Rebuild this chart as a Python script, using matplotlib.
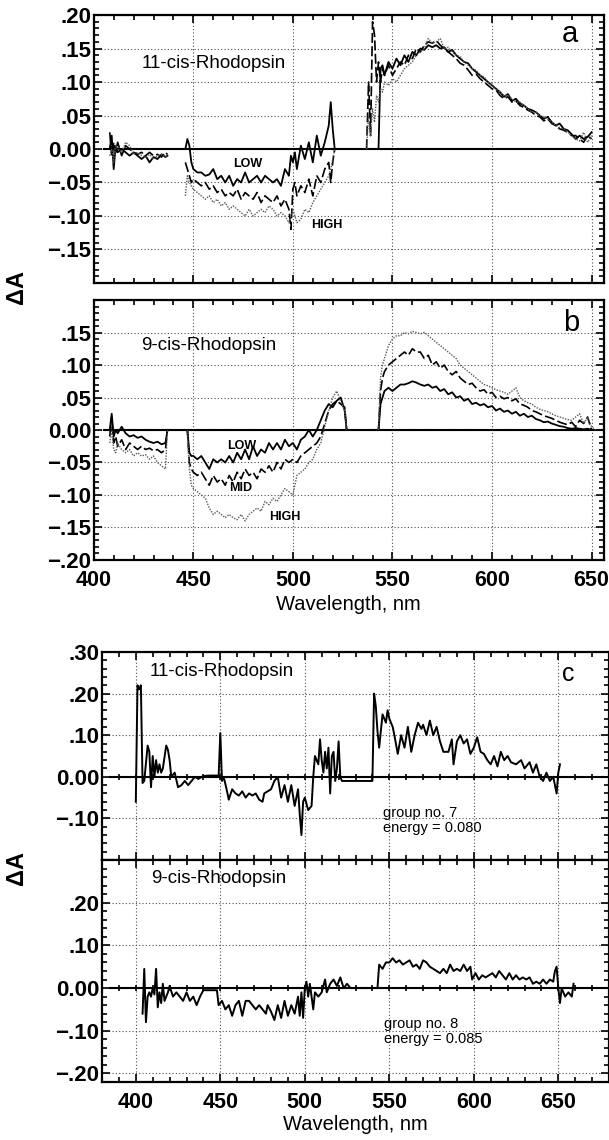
import numpy as np
import matplotlib
matplotlib.use("Agg")
import matplotlib.pyplot as plt
from matplotlib.ticker import MultipleLocator, FixedLocator, FuncFormatter

plt.rcParams['font.family'] = ['Liberation Sans', 'DejaVu Sans']

# ---------------- panel a : 11-cis-Rhodopsin, three intensities ----------------
a1_x = [408, 409, 410, 411, 412, 414, 416, 418, 420, 422, 424, 426, 428, 430, 432, 434, 436, 437]
a1_low = [0.0, 0.02, -0.03, 0.005, -0.005, 0.0, -0.005, -0.01, -0.005, -0.01, -0.015, -0.01, -0.02, -0.012, -0.015, -0.008, -0.012, -0.01]
a1_mid = [0.025, -0.01, 0.01, -0.005, 0.01, -0.01, 0.005, 0.0, -0.005, -0.008, -0.005, -0.01, -0.005, -0.01, -0.008, -0.012, -0.005, -0.008]
a1_high = [-0.01, 0.0, -0.02, 0.005, 0.0, -0.005, 0.01, 0.005, -0.008, -0.005, -0.01, -0.012, -0.008, -0.015, -0.01, -0.008, -0.012, -0.01]

a2_x = [446, 447, 448, 449, 450, 452, 454, 456, 458, 460, 462, 464, 466, 468, 470, 472, 474, 476, 478, 480,
        482, 484, 486, 488, 490, 492, 494, 496, 498, 499, 500, 501, 502, 504, 506, 508, 510, 512, 514, 516,
        518, 519, 520, 521]
a2_low = [0.0, 0.015, 0.005, -0.02, -0.03, -0.035, -0.035, -0.04, -0.038, -0.03, -0.045, -0.04, -0.05, -0.04, -0.055, -0.045, -0.05, -0.035, -0.05, -0.045,
          -0.04, -0.05, -0.04, -0.045, -0.05, -0.045, -0.055, -0.03, -0.04, -0.01, -0.02, -0.005, -0.03, 0.005, -0.015, 0.01, -0.02, 0.02, -0.01, 0.01,
          0.035, 0.07, 0.03, 0.0]
a2_mid = [-0.02, -0.03, -0.04, -0.05, -0.045, -0.05, -0.055, -0.05, -0.06, -0.055, -0.065, -0.06, -0.07, -0.065, -0.07, -0.06, -0.075, -0.065, -0.07, -0.075,
          -0.065, -0.08, -0.07, -0.075, -0.08, -0.07, -0.085, -0.075, -0.09, -0.12, -0.06, -0.05, -0.07, -0.055, -0.065, -0.045, -0.07, -0.04, -0.05, -0.03,
          -0.02, -0.05, -0.02, 0.0]
a2_high = [-0.07, -0.04, -0.05, -0.055, -0.06, -0.065, -0.07, -0.075, -0.07, -0.08, -0.075, -0.085, -0.08, -0.09, -0.085, -0.09, -0.095, -0.1, -0.09, -0.1,
           -0.095, -0.09, -0.095, -0.085, -0.09, -0.1, -0.095, -0.1, -0.11, -0.1, -0.09, -0.1, -0.11, -0.105, -0.09, -0.095, -0.08, -0.07, -0.06, -0.05,
           -0.04, -0.03, -0.015, 0.0]

a3_x = [537, 538, 539, 540, 541, 542, 543, 544, 545, 546,
        548, 550, 552, 554, 556, 558, 560, 562, 564, 566,
        568, 570, 572, 574, 576, 578, 580, 582, 584, 586,
        588, 590, 592, 594, 596, 598, 600, 602, 604, 606,
        608, 610, 612, 614, 616, 618, 620, 622, 624, 626,
        628, 630, 632, 634, 636, 638, 640, 642, 644, 646,
        648, 650]
a3_low = [0.0, 0.0, 0.0, 0.0, 0.0, 0.0, 0.0, 0.12, 0.125, 0.11,
          0.13, 0.12, 0.135, 0.125, 0.14, 0.13, 0.145, 0.14, 0.15, 0.148,
          0.155, 0.152, 0.155, 0.15, 0.152, 0.145, 0.148, 0.14, 0.135, 0.13,
          0.128, 0.12, 0.115, 0.11, 0.105, 0.1, 0.095, 0.09, 0.085, 0.078,
          0.082, 0.072, 0.075, 0.068, 0.065, 0.06, 0.058, 0.055, 0.05, 0.045,
          0.048, 0.04, 0.035, 0.038, 0.03, 0.028, 0.022, 0.015, 0.02, 0.015,
          0.018, 0.025]
a3_mid = [0.0, 0.1, 0.02, 0.19, 0.17, 0.1, 0.13, 0.1, 0.12, 0.11,
          0.125, 0.11, 0.12, 0.13, 0.125, 0.14, 0.135, 0.15, 0.145, 0.155,
          0.16, 0.158, 0.162, 0.155, 0.15, 0.145, 0.14, 0.135, 0.128, 0.125,
          0.118, 0.11, 0.112, 0.105, 0.1, 0.095, 0.09, 0.088, 0.08, 0.075,
          0.078, 0.07, 0.072, 0.065, 0.062, 0.058, 0.055, 0.05, 0.048, 0.042,
          0.045, 0.038, 0.035, 0.03, 0.028, 0.025, 0.02, 0.02, 0.015, 0.01,
          0.02, 0.015]
a3_high = [0.0, 0.05, 0.02, 0.06, 0.04, 0.08, 0.07, 0.09, 0.085, 0.1,
           0.095, 0.105, 0.1, 0.11, 0.12, 0.125, 0.13, 0.14, 0.145, 0.15,
           0.165, 0.158, 0.16, 0.165, 0.15, 0.152, 0.145, 0.14, 0.138, 0.13,
           0.125, 0.12, 0.118, 0.11, 0.108, 0.1, 0.095, 0.09, 0.085, 0.08,
           0.08, 0.075, 0.07, 0.07, 0.065, 0.06, 0.055, 0.055, 0.05, 0.048,
           0.045, 0.04, 0.035, 0.032, 0.03, 0.025, 0.02, 0.015, 0.012, 0.025,
           0.01, 0.02]

# ---------------- panel b : 9-cis-Rhodopsin, three intensities ----------------
b1_x = [408, 409, 410, 411, 412, 414, 416, 418, 420, 422, 424, 426, 428, 430, 432, 434, 436, 437]
b1_low = [0.0, 0.025, -0.01, 0.0, -0.005, 0.005, -0.005, -0.01, -0.008, -0.012, -0.01, -0.015, -0.018, -0.02, -0.018, -0.022, -0.02, 0.0]
b1_mid = [-0.01, 0.02, -0.02, -0.01, -0.025, -0.015, -0.03, -0.02, -0.025, -0.03, -0.025, -0.03, -0.028, -0.032, -0.03, -0.035, -0.03, 0.0]
b1_high = [-0.02, 0.0, -0.03, -0.035, -0.02, -0.03, -0.035, -0.03, -0.04, -0.035, -0.04, -0.038, -0.045, -0.04, -0.05, -0.055, -0.06, 0.0]

b2_x = [447, 448, 449, 450,
        452, 454, 456, 458, 460, 462, 464, 466, 468, 470,
        472, 474, 476, 478, 480, 482, 484, 486, 488, 490,
        492, 494, 496, 498, 500,
        502, 504, 506, 508, 510, 512, 514, 516, 518, 520, 522, 524, 526,
        527]
b2_low = [0.0, -0.035, -0.04, -0.04,
          -0.045, -0.04, -0.05, -0.06, -0.045, -0.05, -0.045, -0.05, -0.04, -0.05,
          -0.035, -0.045, -0.03, -0.045, -0.025, -0.04, -0.03, -0.035, -0.02, -0.03,
          -0.02, -0.03, -0.015, -0.025, -0.02,
          -0.03, -0.015, -0.01, 0.0, -0.01, 0.0, 0.015, 0.03, 0.04, 0.035, 0.045, 0.05, 0.03,
          0.0]
b2_mid = [0.0, -0.05, -0.06, -0.065,
          -0.07, -0.065, -0.075, -0.085, -0.07, -0.08, -0.075, -0.085, -0.07, -0.08,
          -0.065, -0.075, -0.06, -0.07, -0.065, -0.075, -0.06, -0.065, -0.055, -0.065,
          -0.05, -0.06, -0.045, -0.05, -0.045,
          -0.05, -0.04, -0.035, -0.03, -0.025, -0.02, -0.01, 0.01, 0.03, 0.04, 0.045, 0.04, 0.035,
          0.0]
b2_high = [0.0, -0.06, -0.085, -0.09,
           -0.095, -0.1, -0.105, -0.12, -0.13, -0.125, -0.13, -0.135, -0.13, -0.135,
           -0.138, -0.13, -0.14, -0.13, -0.125, -0.12, -0.125, -0.11, -0.115, -0.105,
           -0.11, -0.1, -0.09, -0.095, -0.1,
           -0.07, -0.065, -0.06, -0.05, -0.045, -0.03, -0.02, 0.005, 0.03, 0.05, 0.06, 0.045, 0.03,
           0.0]

b3_x = [543, 544, 545, 546,
        548, 550, 552, 554, 556, 558, 560, 562, 564, 566,
        568, 570, 572, 574, 576, 578, 580, 582, 584, 586,
        588, 590, 592, 594, 596, 598, 600, 602, 604, 606,
        608, 610, 612, 614, 616, 618, 620, 622, 624, 626,
        628, 630, 632, 634, 636, 638, 640, 642, 644, 646,
        648, 650, 652]
b3_low = [0.0, 0.04, 0.05, 0.06,
          0.065, 0.06, 0.065, 0.07, 0.07, 0.072, 0.075, 0.073, 0.07, 0.068,
          0.07, 0.065, 0.067, 0.06, 0.063, 0.055, 0.058, 0.05, 0.052, 0.045,
          0.048, 0.04, 0.042, 0.038, 0.04, 0.035, 0.037, 0.03, 0.033, 0.028,
          0.03, 0.025, 0.028, 0.022, 0.025, 0.02, 0.022, 0.017, 0.015, 0.012,
          0.013, 0.01, 0.008, 0.006, 0.005, 0.003, 0.002, 0.003, 0.002, 0.001,
          0.002, 0.0, 0.0]
b3_mid = [0.0, 0.06, 0.08, 0.09,
          0.1, 0.105, 0.11, 0.115, 0.12, 0.115, 0.125, 0.12, 0.12, 0.11,
          0.115, 0.1, 0.105, 0.095, 0.1, 0.09, 0.085, 0.09, 0.08, 0.075,
          0.07, 0.072, 0.065, 0.06, 0.062, 0.055, 0.058, 0.05, 0.052, 0.048,
          0.05, 0.045, 0.048, 0.04, 0.038, 0.035, 0.03, 0.028, 0.025, 0.022,
          0.02, 0.018, 0.015, 0.012, 0.01, 0.008, 0.012, 0.005, 0.015, 0.01,
          0.02, 0.0, 0.0]
b3_high = [0.0, 0.08, 0.1, 0.11,
           0.13, 0.14, 0.145, 0.145, 0.15, 0.148, 0.152, 0.15, 0.148, 0.15,
           0.145, 0.14, 0.135, 0.13, 0.125, 0.12, 0.115, 0.11, 0.1, 0.095,
           0.09, 0.085, 0.08, 0.075, 0.07, 0.068, 0.065, 0.062, 0.06, 0.058,
           0.055, 0.06, 0.065, 0.05, 0.045, 0.042, 0.04, 0.035, 0.032, 0.03,
           0.028, 0.025, 0.022, 0.02, 0.018, 0.016, 0.015, 0.02, 0.025, 0.01,
           0.02, 0.005, 0.0]

# ---------------- panel c : difference spectra ----------------
c11_x = [400, 401, 402, 403, 404, 405, 407, 408, 409, 410,
         411, 412, 413, 414, 415, 416, 418, 419, 420, 421,
         423, 425, 427, 429, 431, 433, 435, 437, 440, 444,
         448, 449, 450, 451, 452, 454, 455, 457, 459, 461,
         463, 465, 467, 469, 471, 473, 475, 476, 478, 480,
         482, 484, 486, 488, 490, 492, 494, 496, 497, 498,
         499, 500, 502, 504, 505, 506, 508, 509, 510, 511,
         512, 513, 514, 515, 516, 517, 518, 519, 520, 521,
         522, 523, 530, 540, 541, 542, 543, 544, 546, 548,
         549, 550, 552, 553, 555, 557, 559, 561, 563, 565,
         567, 569, 570, 572, 574, 576, 578, 580, 582, 585,
         587, 588, 590, 592, 594, 596, 598, 600, 602, 604,
         606, 608, 610, 612, 614, 616, 618, 620, 622, 625,
         628, 630, 633, 635, 637, 639, 641, 643, 645, 647,
         649, 650, 651]
c11_y = [-0.06, 0.22, 0.21, 0.22, -0.015, -0.01, 0.075, 0.06, -0.025, 0.05,
         0.0, 0.04, 0.01, 0.03, 0.01, 0.02, 0.075, 0.065, 0.04, 0.0,
         0.01, -0.025, -0.02, -0.01, -0.02, -0.01, 0.0, -0.005, 0.002, 0.003,
         0.003, 0.0, 0.105, -0.01, 0.0, -0.035, -0.055, -0.03, -0.04, -0.045,
         -0.035, -0.05, -0.04, -0.045, -0.04, -0.055, -0.06, -0.04, -0.035, -0.03,
         -0.01, 0.0, -0.05, -0.02, -0.06, -0.02, -0.07, -0.03, -0.09, -0.14,
         -0.06, -0.05, -0.08, -0.07, 0.0, 0.05, 0.03, 0.09, 0.04, 0.01,
         0.06, 0.02, 0.07, -0.04, 0.05, 0.06, -0.01, 0.02, 0.085, 0.0,
         -0.01, -0.01, -0.01, -0.01, 0.2, 0.17, 0.11, 0.07, 0.15, 0.13,
         0.16, 0.14, 0.12, 0.1, 0.055, 0.1, 0.07, 0.12, 0.06, 0.1,
         0.13, 0.115, 0.125, 0.1, 0.135, 0.1, 0.12, 0.085, 0.06, 0.06,
         0.09, 0.03, 0.085, 0.1, 0.08, 0.09, 0.055, 0.07, 0.095, 0.06,
         0.055, 0.04, 0.03, 0.05, 0.025, 0.06, 0.04, 0.05, 0.035, 0.03,
         0.04, 0.02, 0.035, 0.01, 0.03, 0.0, -0.01, 0.01, -0.01, 0.0,
         -0.04, 0.01, 0.03]

c9_x = [404, 405, 406, 407, 408, 409, 410, 411, 412, 413,
        414, 415, 416, 417, 419, 420, 422, 424, 426, 428,
        430, 432, 434, 436, 438, 440, 448, 449, 451, 453,
        455, 457, 459, 461, 463, 465, 467, 469, 471, 473,
        475, 477, 478, 480, 482, 484, 486, 488, 490, 492,
        494, 496, 497, 498, 499, 500, 501, 502, 503, 505,
        506, 508, 510, 512, 513, 515, 517, 519, 521, 523,
        525, 527, 535, 543, 544, 546, 548, 550, 552, 554,
        556, 558, 560, 562, 564, 566, 568, 570, 572, 574,
        576, 578, 580, 582, 584, 586, 588, 590, 592, 594,
        596, 598, 599, 601, 603, 605, 607, 609, 611, 613,
        615, 617, 619, 621, 623, 625, 627, 629, 631, 633,
        635, 637, 639, 641, 643, 645, 647, 648, 649, 650,
        651, 652, 654, 656, 658, 659]
c9_y = [-0.06, 0.045, -0.08, -0.02, -0.01, -0.02, 0.0, -0.015, 0.045, -0.045,
        -0.01, -0.035, 0.01, -0.03, -0.01, 0.005, -0.02, -0.01, -0.02, -0.03,
        -0.01, -0.03, -0.02, -0.04, -0.02, -0.005, -0.005, -0.04, -0.03, -0.05,
        -0.04, -0.065, -0.04, -0.03, -0.065, -0.03, -0.03, -0.04, -0.05, -0.04,
        -0.05, -0.06, -0.04, -0.055, -0.075, -0.04, -0.07, -0.03, -0.065, -0.04,
        -0.06, -0.02, -0.065, -0.01, -0.07, 0.0, 0.015, -0.02, 0.01, -0.05,
        -0.01, -0.02, -0.01, 0.02, -0.01, 0.01, 0.02, 0.005, 0.025, 0.0,
        0.01, 0.0, 0.0, 0.0, 0.055, 0.045, 0.06, 0.06, 0.07, 0.06,
        0.065, 0.055, 0.06, 0.065, 0.05, 0.055, 0.045, 0.065, 0.06, 0.05,
        0.045, 0.04, 0.035, 0.045, 0.035, 0.055, 0.04, 0.045, 0.04, 0.055,
        0.04, 0.05, 0.02, 0.035, 0.02, 0.03, 0.025, 0.03, 0.035, 0.025,
        0.04, 0.03, 0.02, 0.035, 0.02, 0.03, 0.02, 0.025, 0.02, 0.025,
        0.01, 0.015, 0.01, 0.02, 0.01, 0.02, 0.015, 0.04, 0.05, 0.0,
        -0.035, 0.0, -0.02, -0.01, -0.02, 0.01]


def fmt_tick(v, pos):
    if abs(v) < 1e-9:
        return "0.00"
    s = ("%.2f" % abs(v))[1:]  # ".20" style, no leading zero
    return ("\u2212" if v < 0 else "") + s


def style_axis(ax, xlim, ylim, yticks, ymin_step, show_x=False):
    ax.set_xlim(*xlim)
    ax.set_ylim(*ylim)
    ax.xaxis.set_major_locator(MultipleLocator(50))
    ax.xaxis.set_minor_locator(MultipleLocator(10))
    ax.yaxis.set_major_locator(FixedLocator(yticks))
    ax.yaxis.set_minor_locator(MultipleLocator(ymin_step))
    ax.yaxis.set_major_formatter(FuncFormatter(fmt_tick))
    ax.tick_params(which='both', direction='in', top=True, right=True, width=1.2)
    ax.tick_params(which='major', length=6)
    ax.tick_params(which='minor', length=3.5)
    ax.tick_params(axis='y', labelsize=16, pad=2)
    ax.tick_params(axis='x', labelsize=15.5, pad=7, labelbottom=show_x)
    for lab in ax.get_yticklabels() + ax.get_xticklabels():
        lab.set_fontweight('bold')
    for sp in ax.spines.values():
        sp.set_linewidth(1.6)
    ax.grid(True, which='major', color='0.3', linestyle=(0, (1, 2)), linewidth=0.8)


def three(ax, x, low, mid, high):
    ax.plot(x, low, color='black', lw=1.3, ls='-')
    ax.plot(x, mid, color='black', lw=1.2, ls=(0, (6, 2)))
    ax.plot(x, high, color='0.35', lw=1.0, ls=(0, (1, 1)))


fig = plt.figure(figsize=(6.09, 11.40), dpi=100)

# panel a
ax_a = fig.add_axes([0.154, 0.7518, 0.837, 0.235])
ax_a.plot([405, 660], [0, 0], color='black', lw=1.5)
three(ax_a, a1_x, a1_low, a1_mid, a1_high)
three(ax_a, a2_x, a2_low, a2_mid, a2_high)
three(ax_a, a3_x, a3_low, a3_mid, a3_high)
style_axis(ax_a, (400, 656), (-0.2, 0.2), [0.2, 0.15, 0.1, 0.05, 0.0, -0.05, -0.1, -0.15], 0.01)
ax_a.text(424, 0.128, "11-cis-Rhodopsin", fontsize=13.5, va='center')
ax_a.text(639, 0.172, "a", fontsize=21, ha='center', va='center')
ax_a.text(470, -0.022, "LOW", fontsize=9, fontweight='bold', va='center')
ax_a.text(509, -0.114, "HIGH", fontsize=9, fontweight='bold', va='center')

# panel b
ax_b = fig.add_axes([0.154, 0.5088, 0.837, 0.228])
ax_b.plot([405, 660], [0, 0], color='black', lw=1.5)
three(ax_b, b1_x, b1_low, b1_mid, b1_high)
three(ax_b, b2_x, b2_low, b2_mid, b2_high)
three(ax_b, b3_x, b3_low, b3_mid, b3_high)
style_axis(ax_b, (400, 656), (-0.2, 0.2), [0.15, 0.1, 0.05, 0.0, -0.05, -0.1, -0.15, -0.2], 0.01, show_x=True)
ax_b.text(424, 0.13, "9-cis-Rhodopsin", fontsize=13.5, va='center')
ax_b.text(640, 0.165, "b", fontsize=21, ha='center', va='center')
ax_b.text(467, -0.024, "LOW", fontsize=9, fontweight='bold', va='center')
ax_b.text(468, -0.089, "MID", fontsize=9, fontweight='bold', va='center')
ax_b.text(488, -0.134, "HIGH", fontsize=9, fontweight='bold', va='center')
ax_b.set_xlabel("Wavelength, nm", fontsize=14.5, labelpad=3)
fig.text(0.027, 0.748, "\u0394A", rotation=90, fontsize=17, fontweight='bold', ha='center', va='center')

# panel c
ax_c1 = fig.add_axes([0.1675, 0.2456, 0.8325, 0.1825])
ax_c2 = fig.add_axes([0.1675, 0.0509, 0.8325, 0.1947], sharex=ax_c1)
zl = np.arange(390, 681, 10)
for ax in (ax_c1, ax_c2):
    ax.plot([385, 682], [0, 0], color='black', lw=1.5)
    ax.plot(zl, np.zeros_like(zl), ls='none', marker='|', ms=5, mew=1.2, color='black')
ax_c1.plot(c11_x, c11_y, color='black', lw=1.4)
ax_c2.plot(c9_x, c9_y, color='black', lw=1.4)
style_axis(ax_c1, (380, 680), (-0.2, 0.3), [0.3, 0.2, 0.1, 0.0, -0.1], 0.02)
style_axis(ax_c2, (380, 680), (-0.22, 0.3), [0.2, 0.1, 0.0, -0.1, -0.2], 0.02, show_x=True)
ax_c1.tick_params(axis='x', labelbottom=False)
ax_c1.text(408, 0.252, "11-cis-Rhodopsin", fontsize=13.5, va='center')
ax_c1.text(656, 0.248, "c", fontsize=18, ha='center', va='center')
ax_c1.text(546, -0.086, "group no. 7", fontsize=10.5, va='center')
ax_c1.text(546, -0.124, "energy = 0.080", fontsize=10.5, va='center')
ax_c2.text(409, 0.256, "9-cis-Rhodopsin", fontsize=13.5, va='center')
ax_c2.text(547, -0.085, "group no. 8", fontsize=10.5, va='center')
ax_c2.text(547, -0.12, "energy = 0.085", fontsize=10.5, va='center')
ax_c2.set_xlabel("Wavelength, nm", fontsize=14.5, labelpad=2)
fig.text(0.027, 0.239, "\u0394A", rotation=90, fontsize=17, fontweight='bold', ha='center', va='center')

fig.savefig("out.png", dpi=100)
